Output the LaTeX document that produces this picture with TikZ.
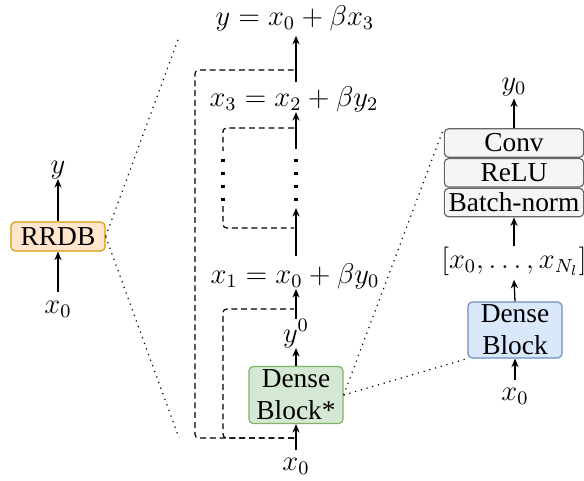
\documentclass[tikz,border=0pt]{standalone}
\usepackage[no-math]{fontspec}
\setmainfont{Liberation Serif}
\usetikzlibrary{arrows.meta}
\definecolor{orF}{HTML}{FFE6CC}
\definecolor{orD}{HTML}{D79B00}
\definecolor{grF}{HTML}{D5E8D4}
\definecolor{grD}{HTML}{82B366}
\definecolor{blF}{HTML}{DAE8FC}
\definecolor{blD}{HTML}{6C8EBF}
\definecolor{gyF}{HTML}{F5F5F5}
\definecolor{gyD}{HTML}{666666}
\begin{document}
\fontsize{11.5}{13.5}\selectfont\rmfamily
\begin{tikzpicture}[x=0.42pt,y=-0.42pt,
  arr/.style={-{Stealth[length=3.6pt,width=3pt]}, line width=0.55pt},
  lab/.style={inner sep=0pt, anchor=base},
  blk/.style={rounded corners=1.8pt, line width=0.5pt, inner sep=0pt, minimum width=39.5pt, align=center},
  gbox/.style={blk, fill=gyF, draw=gyD, minimum width=58.5pt, minimum height=12pt},
  dsh/.style={line width=0.5pt, dash pattern=on 2.5pt off 1.6pt, rounded corners=1.5pt},
  bigdots/.style={line width=1.3pt, dash pattern=on 1.3pt off 4.16pt},
  thindots/.style={line width=0.5pt, dotted}]
\useasboundingbox (0,0) rectangle (584,480);

% ---- left: RRDB
\node[blk, fill=orF, draw=orD, minimum height=12.2pt] (rrdb) at (58,236.5) {RRDB};
\node[lab] (yL) at (58,173) {$y$};
\node[lab] (x0L) at (58,313) {$x_0$};
\draw[arr] ([yshift=3.5pt]x0L.north) -- (rrdb.south);
\draw[arr] (rrdb.north) -- (yL.south);
\coordinate (zt) at (179,37);
\coordinate (zb) at (179,438);
\draw[thindots] (rrdb.east) -- (zt);
\draw[thindots] (rrdb.east) -- (zb);

% ---- middle column
\node[blk, fill=grF, draw=grD, minimum height=23.9pt] (dbs) at (296,395) {Dense\\Block*};
\node[lab] (x0M) at (296,470) {$x_0$};
\node[lab] (y0M) at (296,342) {$y^0$};
\node[lab] (x1) at (295,283) {$x_1 = x_0 + \beta y_0$};
\node[lab] (x3) at (294,106) {$x_3 = x_2 + \beta y_2$};
\node[lab] (yT) at (295,25) {$y = x_0 + \beta x_3$};
\coordinate (m1) at (296,208);
\coordinate (m2) at (296,149);
\coordinate (dR1) at (296,158.5);
\coordinate (dR2) at (296,200.5);
\coordinate (dL1) at (223,158.5);
\coordinate (dL2) at (223,200.5);

\draw[arr] ([yshift=3pt]x0M.north) -- (dbs.south);
\draw[arr] (dbs.north) -- (dbs.north |- y0M.south);
\draw[arr] (dbs.north |- y0M.north) -- (dbs.north |- x1.south);
\draw[arr] ([yshift=3pt]x1.north -| m1) -- (m1);
\draw[bigdots] (dR1) -- (dR2);
\draw[arr] (m2) -- (m2 |- x3.south);
\draw[arr] ([yshift=1.5pt]x3.north -| m2) -- ([yshift=-2pt]yT.south -| m2);

% dashed skip connections
\draw[dsh] (294,438) -- (195,438) -- (195,70) -- (294,70);
\draw[dsh] (294,438) -- (223,438) -- (223,309) -- (294,309);
\draw[dsh] (294,128) -- (223,128) -- (223,151);
\draw[dsh] (223,206) -- (223,228) -- (294,228);
\draw[bigdots] (dL1) -- (dL2);

% ---- right: dense block detail
\node[gbox] (conv) at (514,143) {Conv};
\node[gbox, anchor=north] (relu) at (conv.south) {ReLU};
\node[gbox, anchor=north] (bn) at (relu.south) {Batch-norm};
\node[lab] (y0R) at (514,90) {$y_0$};
\node[lab] (br) at (514,268) {$[x_0, \ldots, x_{N_l}]$};
\node[blk, fill=blF, draw=blD, minimum height=23.5pt] (db) at (515,330) {Dense\\Block};
\node[lab] (x0R) at (515,400) {$x_0$};

\draw[arr] (conv.north) -- ([yshift=-1pt]y0R.south);
\draw[arr] (br.north) -- (bn.south);
\draw[arr] (db.north) -- ([yshift=-1.5pt]br.south);
\draw[arr] ([yshift=3pt]x0R.north) -- (db.south);

\draw[thindots] (dbs.east) -- (conv.north west);
\draw[thindots] (dbs.east) -- (db.south west);
\end{tikzpicture}
\end{document}
